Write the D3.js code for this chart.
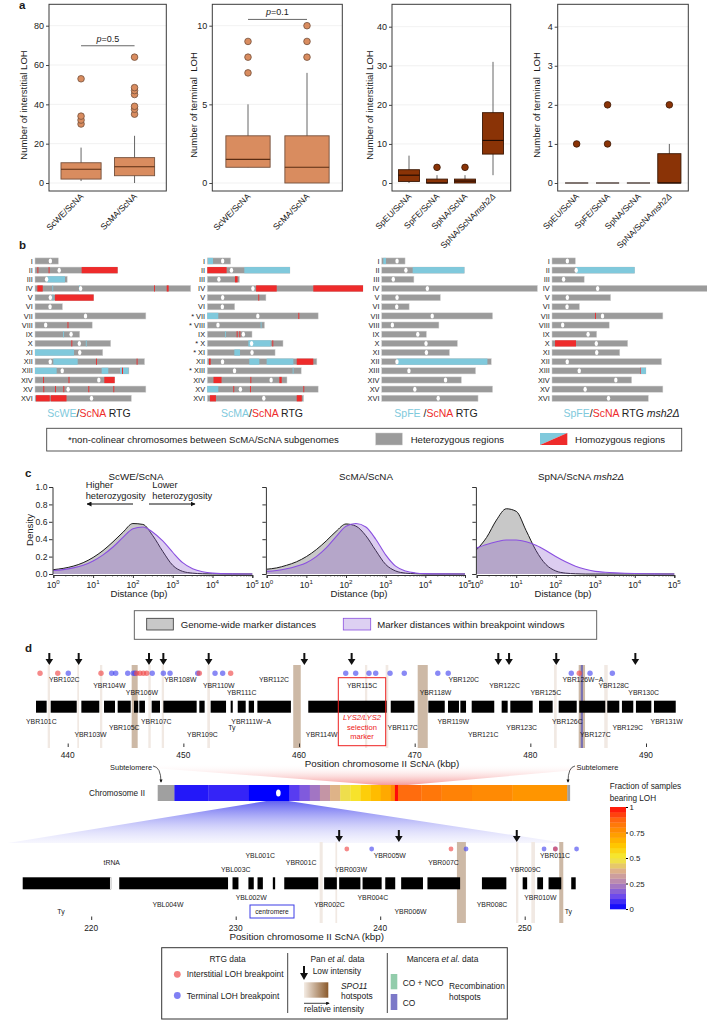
<!DOCTYPE html>
<html>
<head>
<meta charset="utf-8">
<title>LOH figure</title>
<script src="https://d3js.org/d3.v7.min.js"></script>
<style>
  body { margin: 0; background: #fff; }
  svg { display: block; }
</style>
</head>
<body>
<script>
// ---------------- data: panel a ----------------
const sacGroups = ["ScWE/ScNA", "ScMA/ScNA"];
const parGroups = ["SpEU/ScNA", "SpFE/ScNA", "SpNA/ScNA", "SpNA/ScNA msh2Δ"];
// [lower whisker, Q1, median, Q3, upper whisker]
const sacInterStats = [[1, 2, 7, 10.3, 18], [0, 3.7, 8.3, 12.9, 24]];
const sacInterOut = [[30, 32, 34, 53], [35, 37.5, 39, 45, 47, 48.5, 64]];
const sacTermStats = [[1, 1, 1.5, 3, 5], [0, 0, 1, 3, 7]];
const sacTermOut = [[7, 8, 9], [8, 9, 10]];
const parInterStats = [[0, 0.4, 2, 3.4, 7], [0, 0, 0, 1, 2], [0, 0, 0.5, 1, 2], [2, 7.4, 10.9, 18, 31]];
const parInterOut = [[], [4], [4], []];
const parTermStats = [[0, 0, 0, 0, 0], [0, 0, 0, 0, 0], [0, 0, 0, 0, 0], [0, 0, 0, 0.75, 1]];
const parTermOut = [[1], [1, 2], [], [2]];

// ---------------- data: panel b ----------------
const chrNames = ["I", "II", "III", "IV", "V", "VI", "VII", "VIII", "IX", "X", "XI", "XII", "XIII", "XIV", "XV", "XVI"];
const chrLen = [230, 813, 317, 1532, 577, 270, 1091, 563, 440, 745, 667, 1078, 924, 784, 1091, 948];
const cenPos = [151, 238, 114, 449, 151, 148, 497, 105, 355, 436, 440, 150, 268, 628, 326, 556];
// [chromosome index, start kb, end kb, subgenome kept: c = first parent, r = ScNA]
const lohWE = [[1, 24, 32, "r"], [1, 134, 142, "r"], [1, 459, 813, "r"], [2, 121, 295, "c"],
  [3, 23, 76, "r"], [3, 170, 178, "c"], [3, 433, 441, "c"], [3, 1171, 1179, "r"], [3, 1296, 1315, "r"],
  [4, 172, 180, "c"], [4, 197, 577, "r"], [7, 320, 328, "r"], [8, 276, 284, "c"], [9, 358, 366, "r"],
  [9, 500, 508, "c"], [10, 0, 384, "c"], [11, 180, 420, "c"], [11, 600, 608, "r"], [11, 1000, 1008, "r"],
  [12, 0, 213, "c"], [12, 656, 721, "c"], [12, 837, 919, "c"], [12, 856, 866, "r"],
  [13, 80, 88, "r"], [13, 330, 338, "r"], [13, 682, 784, "r"], [14, 82, 90, "r"], [14, 197, 205, "r"],
  [14, 279, 287, "r"], [14, 525, 533, "r"], [14, 771, 779, "r"], [15, 10, 145, "r"], [15, 155, 310, "r"]];
const lohMA = [[0, 7, 56, "c"], [1, 0, 190, "r"], [1, 364, 813, "c"], [2, 272, 298, "r"],
  [3, 480, 683, "r"], [3, 1043, 1532, "r"], [4, 502, 510, "r"], [6, 0, 108, "c"], [6, 896, 904, "r"],
  [7, 525, 533, "c"], [8, 174, 182, "c"], [8, 289, 297, "r"], [8, 316, 324, "r"], [9, 404, 624, "c"],
  [9, 640, 648, "r"], [10, 266, 322, "c"], [11, 17, 33, "r"], [11, 413, 512, "c"], [11, 584, 847, "c"],
  [11, 880, 1043, "r"], [12, 840, 848, "c"], [13, 61, 140, "r"], [13, 424, 432, "r"], [13, 709, 732, "r"],
  [14, 0, 108, "c"], [14, 256, 264, "r"], [14, 420, 428, "r"], [14, 945, 953, "r"], [15, 26, 85, "r"],
  [15, 880, 930, "r"]];
const lohFE = [[0, 16, 42, "c"], [1, 305, 813, "c"], [11, 148, 1040, "c"]];
const lohFEmsh = [[1, 236, 813, "c"], [6, 423, 431, "r"], [9, 30, 236, "r"], [12, 866, 872, "r"], [12, 872, 924, "c"]];
const starMA = [6, 7, 9, 10, 12];

// ---------------- data: panel c ----------------
const cGrid = [0, 0.25, 0.5, 0.75, 1, 1.25, 1.5, 1.75, 2, 2.25, 2.5, 2.75, 3, 3.25, 3.5, 3.75, 4, 4.5, 5];
const denWEall = [0.05, 0.065, 0.09, 0.13, 0.19, 0.27, 0.37, 0.48, 0.58, 0.57, 0.44, 0.26, 0.1, 0.03, 0.01, 0.003, 0.001, 0, 0];
const denWEbrk = [0.04, 0.05, 0.07, 0.1, 0.15, 0.22, 0.31, 0.42, 0.52, 0.54, 0.48, 0.38, 0.25, 0.13, 0.06, 0.025, 0.01, 0.002, 0];
const denMAall = [0.055, 0.07, 0.1, 0.14, 0.2, 0.28, 0.38, 0.49, 0.575, 0.55, 0.44, 0.27, 0.11, 0.035, 0.01, 0.003, 0, 0, 0];
const denMAbrk = [0.03, 0.04, 0.06, 0.09, 0.13, 0.2, 0.3, 0.43, 0.55, 0.58, 0.54, 0.4, 0.22, 0.09, 0.035, 0.012, 0.004, 0.001, 0];
const denNAall = [0.28, 0.42, 0.62, 0.75, 0.72, 0.5, 0.27, 0.11, 0.035, 0.01, 0.003, 0, 0, 0, 0, 0, 0, 0, 0];
const denNAbrk = [0.3, 0.34, 0.37, 0.39, 0.39, 0.37, 0.33, 0.27, 0.2, 0.14, 0.09, 0.055, 0.03, 0.02, 0.013, 0.008, 0.005, 0.002, 0];

// ---------------- data: panel d ----------------
const topGenes = [[437.26, 438.18], [438.53, 440.78], [441.18, 442.73], [443.14, 444.09], [444.32, 445.45],
  [445.73, 446.1], [446.19, 446.68], [447.26, 447.98], [448.27, 451.15], [451.38, 451.84], [452.36, 453.69],
  [454.09, 454.27], [454.7, 455.39], [455.65, 456.11], [456.4, 459.3], [460.8, 467.58], [467.93, 469.97],
  [471.18, 472.6], [472.88, 473.83], [473.95, 474.44], [474.93, 476.88], [477.52, 478.04], [478.27, 480.2],
  [480.75, 481.93], [482.45, 484.01], [484.23, 486.48], [486.65, 487.69], [487.92, 488.9], [489.13, 490.46],
  [490.69, 492.57]];
// [name, kb, row]; rows 0-2 above the track, 3-5 below
const topLabels = [["YBR102C", 439.7, 0], ["YBR104W", 443.6, 1], ["YBR106W", 446.42, 2], ["YBR108W", 449.74, 0],
  ["YBR110W", 453.06, 1], ["YBR111C", 455.05, 2], ["YBR112C", 457.84, 0], ["YBR115C", 465.45, 1],
  ["YBR118W", 471.8, 2], ["YBR120C", 474.24, 0], ["YBR122C", 477.77, 1], ["YBR125C", 481.34, 2],
  ["YBR126W−A", 484.54, 0], ["YBR128C", 487.21, 1], ["YBR130C", 489.8, 2],
  ["YBR101C", 437.72, 3], ["YBR103W", 441.97, 5], ["YBR105C", 444.89, 4], ["YBR107C", 447.66, 3],
  ["YBR109C", 451.65, 5], ["YBR111W−A", 455.87, 3], ["Ty", 454.2, 4], ["YBR114W", 461.96, 5],
  ["YBR117C", 468.96, 4], ["YBR119W", 473.34, 3], ["YBR121C", 475.93, 5], ["YBR123C", 479.25, 4],
  ["YBR126C", 483.2, 3], ["YBR127C", 485.62, 5], ["YBR129C", 488.42, 4], ["YBR131W", 491.79, 3]];
const topArrows = [438.41, 440.95, 447.03, 448.27, 452.19, 460.46, 464.55, 477.23, 478.16, 482.24, 489.08];
const topInter = [437.61, 439.14, 442.88, 445.97, 446.25, 446.54, 446.83, 451.38, 454.09, 484.23];
const topTerm = [440.05, 443.8, 444.15, 445.19, 445.67, 445.82, 447.31, 448.27, 448.85, 451.24, 452.74,
  453.4, 464.04, 464.9, 466.05, 466.63, 467.87, 469.1, 472.0, 472.9, 483.54, 485.16, 487.09];
const topSpo = [[445.53, 446.05], [459.5, 460.15], [470.26, 471.13], [484.18, 484.73]];
const topWeak = [[438.27, 438.47], [440.83, 440.98], [442.79, 442.99], [446.97, 447.18], [448.13, 448.33],
  [452.07, 452.3], [465.7, 465.9], [467.49, 467.72], [482.05, 482.28], [486.39, 486.69]];
const topCO = [[484.36, 484.55]];

const botGenes = [[215.26, 221.38], [221.94, 229.47], [229.78, 230.19], [230.88, 231.25], [231.51, 231.88],
  [232.57, 232.73], [233.36, 235.71], [236.12, 237.0], [237.16, 238.63], [238.78, 240.1], [240.35, 241.04],
  [241.45, 242.96], [243.27, 245.53], [247.04, 248.73], [249.86, 250.17], [250.87, 251.27], [251.65, 252.53],
  [253.22, 253.53]];
const botLabels = [["tRNA", 221.42, 1], ["YBL003C", 230.0, 2], ["YBL001C", 231.7, 0], ["YBR001C", 234.53, 1],
  ["YBR003W", 237.97, 2], ["YBR005W", 240.66, 0], ["YBR007C", 244.38, 1], ["YBR009C", 250.05, 2],
  ["YBR011C", 252.1, 0], ["YBL002W", 231.07, 3], ["YBL004W", 225.31, 4], ["YBR002C", 236.49, 4],
  ["YBR004C", 239.49, 3], ["YBR006W", 242.1, 5], ["YBR008C", 247.74, 4], ["YBR010W", 251.08, 3],
  ["Ty", 217.91, 5], ["Ty", 253.02, 5]];
const botArrows = [237.16, 241.29, 249.45];
const botInter = [237.69, 244.9, 252.12];
const botTerm = [239.41, 245.94, 251.34, 252.12, 253.59];
const botSpo = [[245.31, 245.93], [252.39, 252.67]];
const botWeak = [[235.81, 236.02], [236.9, 237.02], [249.4, 249.56], [250.46, 250.71]];

// LOH fraction along chromosome II (bin edges in kb, null = no data)
const chrIIEdges = [0, 33, 100, 180, 260, 280, 300, 320, 340, 360, 380, 400, 420, 440, 460, 468, 474, 520, 560, 620, 700, 808, 813];
const chrIIFrac = [null, 0.04, 0.06, 0, 0.1, 0.16, 0.22, 0.3, 0.38, 0.47, 0.53, 0.6, 0.65, 0.7, 0.78, 1, 0.86, 0.83, 0.8, 0.78, 0.75, null];
const fracTicks = [0, 0.25, 0.5, 0.75, 1];

// ---------------- setup ----------------
const FONT = "'Liberation Sans', Arial, Helvetica, sans-serif";
const RED = "#ee2b2b", CYAN = "#80c9dc", GREYBAR = "#9b9b9b";

const svg = d3.select("body").append("svg")
  .attr("width", 707).attr("height", 1020)
  .attr("font-family", FONT).attr("fill", "#1a1a1a");

const defs = svg.append("defs");

function addText(parent, x, y, s, size, anchor = "start") {
  return parent.append("text").attr("x", x).attr("y", y)
    .attr("font-size", size).attr("text-anchor", anchor).attr("fill", "#1a1a1a").text(s);
}

// panel letters
[["a", 19, 9], ["b", 19, 249], ["c", 25, 477], ["d", 25, 652]].forEach(([l, x, y]) =>
  addText(svg, x, y, l, 11.5).attr("font-weight", "bold"));

// ---------------- panel a ----------------
function boxChart(o) {
  const g = svg.append("g");
  const y = d3.scaleLinear().domain([0, o.max]).range([183, o.top]);
  const x = d3.scaleBand().domain(o.groups).range(o.range);
  const step = x.bandwidth();
  const bw = step * 0.75;
  const cx = d => x(d) + step / 2;

  g.selectAll(".grid").data(o.ticks).join("line")
    .attr("x1", o.frame[0]).attr("x2", o.frame[1])
    .attr("y1", d => y(d)).attr("y2", d => y(d))
    .attr("stroke", "#ededed").attr("stroke-width", 0.8);

  const ax = g.append("g").attr("transform", `translate(${o.frame[0]},0)`)
    .call(d3.axisLeft(y).tickValues(o.ticks).tickSize(3).tickPadding(2).tickFormat(d3.format("d")));
  ax.attr("font-family", FONT);
  ax.select(".domain").remove();
  ax.selectAll("text").attr("font-size", 9).attr("fill", "#222");
  ax.selectAll("line").attr("stroke", "#444");

  g.append("text")
    .attr("transform", `translate(${o.titleX},105) rotate(-90)`)
    .attr("text-anchor", "middle").attr("font-size", 9.5).style("white-space", "pre")
    .text(o.title);

  const box = g.selectAll(".box").data(o.groups).join("g");
  box.append("line")
    .attr("x1", d => cx(d)).attr("x2", d => cx(d))
    .attr("y1", (d, i) => y(o.stats[i][0])).attr("y2", (d, i) => y(o.stats[i][4]))
    .attr("stroke", "#555").attr("stroke-width", 0.9);
  box.append("rect")
    .attr("x", d => cx(d) - bw / 2).attr("width", bw)
    .attr("y", (d, i) => y(o.stats[i][3]))
    .attr("height", (d, i) => Math.max(0, y(o.stats[i][1]) - y(o.stats[i][3])))
    .attr("fill", o.fill).attr("stroke", o.stroke).attr("stroke-width", 0.9);
  box.append("line")
    .attr("x1", d => cx(d) - bw / 2).attr("x2", d => cx(d) + bw / 2)
    .attr("y1", (d, i) => y(o.stats[i][2])).attr("y2", (d, i) => y(o.stats[i][2]))
    .attr("stroke", o.medStroke).attr("stroke-width", 1.1);
  box.each(function (d, i) {
    d3.select(this).selectAll("circle").data(o.out[i]).join("circle")
      .attr("cx", cx(d)).attr("cy", v => y(v)).attr("r", 3.3)
      .attr("fill", o.fill).attr("stroke", o.stroke).attr("stroke-width", 0.8);
  });

  g.append("rect").attr("x", o.frame[0]).attr("y", 4.3)
    .attr("width", o.frame[1] - o.frame[0]).attr("height", 191 - 4.3)
    .attr("fill", "none").attr("stroke", "#3a3a3a").attr("stroke-width", 1);

  const lab = g.selectAll(".xl").data(o.groups).join("text")
    .attr("transform", d => `translate(${cx(d) + 3},197) rotate(-45)`)
    .attr("text-anchor", "end").attr("font-size", 8.6);
  lab.each(function (d) {
    const t = d3.select(this);
    if (d.includes("msh2")) {
      t.append("tspan").text("SpNA/ScNA");
      t.append("tspan").attr("font-style", "italic").text("msh2Δ");
    } else t.text(d);
  });

  if (o.p) {
    const yy = y(o.p.at);
    g.append("line").attr("x1", cx(o.groups[0])).attr("x2", cx(o.groups[1]))
      .attr("y1", yy).attr("y2", yy).attr("stroke", "#555").attr("stroke-width", 0.9);
    const t = g.append("text").attr("x", (cx(o.groups[0]) + cx(o.groups[1])) / 2).attr("y", yy - 4)
      .attr("text-anchor", "middle").attr("font-size", 9);
    t.append("tspan").attr("font-style", "italic").text("p");
    t.append("tspan").text("=" + o.p.text);
  }
}

const sacFill = "#d98c5f", sacStroke = "#74503c";
const parFill = "#8a3306", parStroke = "#3b1805";
boxChart({ groups: sacGroups, stats: sacInterStats, out: sacInterOut, max: 80, top: 25.7, ticks: [0, 20, 40, 60, 80],
  frame: [49, 166.3], range: [54.3, 161.3], fill: sacFill, stroke: sacStroke, medStroke: "#5a2c12",
  title: "Number of interstitial LOH", titleX: 27, p: { at: 69.8, text: "0.5" } });
boxChart({ groups: sacGroups, stats: sacTermStats, out: sacTermOut, max: 10, top: 25.7, ticks: [0, 5, 10],
  frame: [212.3, 342.3], range: [218.5, 336.5], fill: sacFill, stroke: sacStroke, medStroke: "#5a2c12",
  title: "Number of terminal  LOH", titleX: 196.5, p: { at: 10.4, text: "0.1" } });
boxChart({ groups: parGroups, stats: parInterStats, out: parInterOut, max: 40, top: 26.7, ticks: [0, 10, 20, 30, 40],
  frame: [392, 510.7], range: [395, 507], fill: parFill, stroke: parStroke, medStroke: "#1e0a02",
  title: "Number of interstitial LOH", titleX: 373.3 });
boxChart({ groups: parGroups, stats: parTermStats, out: parTermOut, max: 4, top: 26.7, ticks: [0, 1, 2, 3, 4],
  frame: [557.7, 688.3], range: [561.2, 684.8], fill: parFill, stroke: parStroke, medStroke: "#1e0a02",
  title: "Number of terminal  LOH", titleX: 540 });

// ---------------- panel b ----------------
const yb = d3.scalePoint().domain(chrNames).range([261, 398.3]);
const bPanels = [
  { x0: 35, loh: lohWE, star: [], sub: [["ScWE", CYAN], ["/", "#222"], ["ScNA", RED], [" RTG", "#222"]], cx: 89 },
  { x0: 207.3, loh: lohMA, star: starMA, sub: [["ScMA", CYAN], ["/", "#222"], ["ScNA", RED], [" RTG", "#222"]], cx: 262 },
  { x0: 381.7, loh: lohFE, star: [], sub: [["SpFE ", CYAN], ["/", "#222"], ["ScNA", RED], [" RTG", "#222"]], cx: 436 },
  { x0: 552, loh: lohFEmsh, star: [], sub: [["SpFE", CYAN], ["/", "#222"], ["ScNA", RED], [" RTG ", "#222"], ["msh2Δ", "#222", true]], cx: 621.5 }
];
bPanels.forEach(p => {
  const x = d3.scaleLinear().domain([0, 1532]).range([p.x0, p.x0 + 155.7]);
  const g = svg.append("g");
  g.selectAll(".chr").data(chrNames).join("rect")
    .attr("x", x(0)).attr("y", d => yb(d) - 3.1)
    .attr("width", (d, i) => x(chrLen[i]) - x(0)).attr("height", 6.2)
    .attr("fill", GREYBAR).attr("stroke", "#d4d4d4").attr("stroke-width", 0.5);
  g.selectAll(".loh").data(p.loh).join("rect")
    .attr("x", d => x(d[1])).attr("y", d => yb(chrNames[d[0]]) - 3.1)
    .attr("width", d => Math.max(0.9, x(d[2]) - x(d[1]))).attr("height", 6.2)
    .attr("fill", d => d[3] === "r" ? RED : CYAN);
  g.selectAll(".cen").data(cenPos).join("ellipse")
    .attr("cx", d => x(d)).attr("cy", (d, i) => yb(chrNames[i]))
    .attr("rx", 1.7).attr("ry", 2.5).attr("fill", "#fff");
  g.selectAll(".nm").data(chrNames).join("text")
    .attr("x", x(0) - 2.2).attr("y", d => yb(d) + 2.6)
    .attr("text-anchor", "end").attr("font-size", 7.4)
    .text((d, i) => (p.star.includes(i) ? "* " : "") + d);
  const t = g.append("text").attr("x", p.cx).attr("y", 417).attr("text-anchor", "middle").attr("font-size", 10.5);
  p.sub.forEach(s => {
    const ts = t.append("tspan").attr("fill", s[1]).style("white-space", "pre").text(s[0]);
    if (s[2]) ts.attr("font-style", "italic");
  });
});

// legend b
const lb = svg.append("g");
lb.append("rect").attr("x", 46.7).attr("y", 428.3).attr("width", 635).attr("height", 22.7)
  .attr("fill", "none").attr("stroke", "#444").attr("stroke-width", 0.9);
addText(lb, 68, 443, "*non-colinear chromosomes between ScMA/ScNA subgenomes", 9.6);
lb.append("rect").attr("x", 375.7).attr("y", 433).attr("width", 26.6).attr("height", 12)
  .attr("fill", GREYBAR).attr("stroke", "#ccc").attr("stroke-width", 0.5);
addText(lb, 410.7, 443, "Heterozygous regions", 9.6);
lb.append("path").attr("d", "M540,433 L567.3,433 L540,445 Z").attr("fill", CYAN);
lb.append("path").attr("d", "M567.3,433 L567.3,445 L540,445 Z").attr("fill", RED);
addText(lb, 575, 443, "Homozygous regions", 9.6);

// ---------------- panel c ----------------
const yc = d3.scaleLinear().domain([0, 1]).range([574, 487]);
const cCharts = [
  { range: [53.3, 252.3], all: denWEall, brk: denWEbrk, title: ["ScWE/ScNA"], tx: 136, lx: 139, labels: true },
  { range: [266.7, 465], all: denMAall, brk: denMAbrk, title: ["ScMA/ScNA"], tx: 366, lx: 359, labels: false },
  { range: [476.7, 674.3], all: denNAall, brk: denNAbrk, title: ["SpNA/ScNA ", "msh2Δ"], tx: 581, lx: 563, labels: false }
];
cCharts.forEach(c => {
  const g = svg.append("g");
  const x = d3.scaleLog().domain([1, 1e5]).range(c.range);
  const area = d3.area().x(d => x(Math.pow(10, d[0]))).y0(yc(0)).y1(d => yc(d[1])).curve(d3.curveMonotoneX);
  const line = d3.line().x(d => x(Math.pow(10, d[0]))).y(d => yc(d[1])).curve(d3.curveMonotoneX);
  const allPts = d3.zip(cGrid, c.all);
  const brkPts = d3.zip(cGrid, c.brk);
  g.append("path").attr("d", area(allPts)).attr("fill", "#c8c8c8");
  g.append("path").attr("d", line(allPts)).attr("fill", "none").attr("stroke", "#1a1a1a").attr("stroke-width", 1);
  g.append("path").attr("d", area(brkPts)).attr("fill", "rgb(138,88,205)").attr("fill-opacity", 0.3);
  g.append("path").attr("d", line(brkPts)).attr("fill", "none").attr("stroke", "#8a4fe0").attr("stroke-width", 1.1);

  // y axis
  const ya = g.append("g").attr("transform", `translate(${c.range[0] - 0.8},0)`)
    .call(d3.axisLeft(yc).tickValues([0, 0.2, 0.4, 0.6, 0.8, 1]).tickSize(3.5).tickPadding(1.5)
      .tickFormat(c.labels ? d3.format(".1f") : ""));
  ya.attr("font-family", FONT);
  ya.selectAll("text").attr("font-size", 8.6).attr("fill", "#222");
  ya.selectAll("path,line").attr("stroke", "#333");

  // x axis (log)
  const minors = [];
  for (let k = 0; k < 5; k++) for (let m = 2; m <= 9; m++) minors.push(m * Math.pow(10, k));
  const xa = g.append("g").attr("transform", "translate(0,575)")
    .call(d3.axisBottom(x).tickValues(minors).tickSize(1.6).tickFormat(""));
  xa.selectAll("path,line").attr("stroke", "#444").attr("stroke-width", 0.7);
  const majors = [1, 10, 100, 1e3, 1e4, 1e5];
  const xm = g.append("g").attr("transform", "translate(0,575)")
    .call(d3.axisBottom(x).tickValues(majors).tickSize(3).tickFormat(""));
  xm.selectAll("path,line").attr("stroke", "#333");
  majors.forEach((v, k) => {
    const t = g.append("text").attr("x", x(v)).attr("y", 587.5).attr("text-anchor", "middle").attr("font-size", 8.6);
    t.append("tspan").text("10");
    t.append("tspan").attr("dy", -3.4).attr("font-size", 6.2).text(k);
  });
  addText(g, c.lx, 597, "Distance (bp)", 9.6, "middle");
  const tt = g.append("text").attr("x", c.tx).attr("y", 480).attr("text-anchor", "middle").attr("font-size", 9.8);
  tt.append("tspan").style("white-space", "pre").text(c.title[0]);
  if (c.title[1]) tt.append("tspan").attr("font-style", "italic").text(c.title[1]);
});
svg.append("text").attr("transform", "translate(33,530) rotate(-90)")
  .attr("text-anchor", "middle").attr("font-size", 9.6).text("Density");
// heterozygosity arrows
defs.append("marker").attr("id", "ahead").attr("viewBox", "0 0 10 10").attr("refX", 9).attr("refY", 5)
  .attr("markerWidth", 5).attr("markerHeight", 5).attr("orient", "auto-start-reverse")
  .append("path").attr("d", "M0,0 L10,5 L0,10 z").attr("fill", "#111");
const ca = svg.append("g");
addText(ca, 85.7, 488, "Higher", 9.3);
addText(ca, 85.7, 499, "heterozygosity", 9.3);
addText(ca, 152.3, 488, "Lower", 9.3);
addText(ca, 152.3, 499, "heterozygosity", 9.3);
ca.append("line").attr("x1", 133).attr("x2", 87).attr("y1", 504).attr("y2", 504)
  .attr("stroke", "#111").attr("stroke-width", 1).attr("marker-end", "url(#ahead)");
ca.append("line").attr("x1", 149).attr("x2", 195).attr("y1", 504).attr("y2", 504)
  .attr("stroke", "#111").attr("stroke-width", 1).attr("marker-end", "url(#ahead)");

// legend c
const lc = svg.append("g");
lc.append("rect").attr("x", 134.3).attr("y", 610.7).attr("width", 462.4).attr("height", 28.6)
  .attr("fill", "none").attr("stroke", "#555").attr("stroke-width", 0.9);
lc.append("rect").attr("x", 146.7).attr("y", 618.3).attr("width", 26.6).attr("height", 11.7)
  .attr("fill", "#c8c8c8").attr("stroke", "#333").attr("stroke-width", 0.8);
addText(lc, 180.7, 628, "Genome-wide marker distances", 9.6);
lc.append("rect").attr("x", 343.3).attr("y", 618.3).attr("width", 27.4).attr("height", 11.7)
  .attr("fill", "#ddd0f2").attr("stroke", "#8a4fe0").attr("stroke-width", 0.8);
addText(lc, 377.3, 628, "Marker distances within breakpoint windows", 9.6);

// ---------------- panel d ----------------
const fracColor = d3.scaleLinear()
  .domain([0, 0.12, 0.25, 0.37, 0.5, 0.62, 0.75, 0.88, 1])
  .range(["#0000ff", "#6a48ee", "#b383b6", "#dcae8e", "#f4ec3a", "#ffc800", "#ff9500", "#ff6410", "#ff0a0a"]);

// funnels
const pinkG = defs.append("linearGradient").attr("id", "pinkG").attr("x1", 0).attr("x2", 0).attr("y1", 0).attr("y2", 1);
pinkG.append("stop").attr("offset", 0).attr("stop-color", "#ffffff").attr("stop-opacity", 0);
pinkG.append("stop").attr("offset", 1).attr("stop-color", "#f59a9a").attr("stop-opacity", 1);
const blueG = defs.append("linearGradient").attr("id", "blueG").attr("x1", 0).attr("x2", 0).attr("y1", 0).attr("y2", 1);
blueG.append("stop").attr("offset", 0).attr("stop-color", "#5a5af0").attr("stop-opacity", 0.95);
blueG.append("stop").attr("offset", 1).attr("stop-color", "#dcdcfb").attr("stop-opacity", 0.25);

const xTop = d3.scaleLinear().domain([440, 490]).range([67.7, 646]);
const xBot = d3.scaleLinear().domain([230, 250]).range([235.7, 524.7]);
const xChr = d3.scaleLinear().domain([0, 813]).range([157.7, 569.8]);

svg.append("path").attr("d",
  `M100,764 L645,764 L${xChr(493)},785 L${xChr(437)},785 Z`).attr("fill", "url(#pinkG)");
svg.append("path").attr("d",
  `M${xChr(214)},801 L${xChr(258)},801 L565,843 L8,843 Z`).attr("fill", "url(#blueG)");

function geneMap(o) {
  const g = svg.append("g");
  g.selectAll(".weak").data(o.weak).join("rect")
    .attr("x", d => o.x(d[0])).attr("width", d => o.x(d[1]) - o.x(d[0]))
    .attr("y", o.bandY[0]).attr("height", o.bandY[1] - o.bandY[0]).attr("fill", "#f1e9e3");
  g.selectAll(".spo").data(o.spo).join("rect")
    .attr("x", d => o.x(d[0])).attr("width", d => o.x(d[1]) - o.x(d[0]))
    .attr("y", o.bandY[0]).attr("height", o.bandY[1] - o.bandY[0]).attr("fill", "#cdb9a6");
  if (o.co) g.selectAll(".co").data(o.co).join("rect")
    .attr("x", d => o.x(d[0])).attr("width", d => o.x(d[1]) - o.x(d[0]))
    .attr("y", o.bandY[0]).attr("height", o.bandY[1] - o.bandY[0]).attr("fill", "#6a64b4").attr("opacity", 0.85);
  g.selectAll(".gene").data(o.genes).join("rect")
    .attr("x", d => o.x(d[0])).attr("width", d => o.x(d[1]) - o.x(d[0]))
    .attr("y", o.trackY).attr("height", 12).attr("fill", "#000");
  g.selectAll(".gl").data(o.labels).join("text")
    .attr("x", d => o.x(d[1])).attr("y", d => o.rows[d[2]])
    .attr("dy", "0.35em").attr("text-anchor", "middle").attr("font-size", 6.9).text(d => d[0]);
  g.selectAll(".arr").data(o.arrows).join("path")
    .attr("d", d => {
      const x = o.x(d), y = o.arrowY;
      return `M${x - 1},${y} L${x + 1},${y} L${x + 1},${y + 6} L${x + 3.8},${y + 6} L${x},${y + 12} L${x - 3.8},${y + 6} L${x - 1},${y + 6} Z`;
    }).attr("fill", "#111");
  g.selectAll(".ter").data(o.term).join("circle")
    .attr("cx", d => o.x(d)).attr("cy", o.dotY).attr("r", o.r).attr("fill", "#4a4af0").attr("fill-opacity", 0.65);
  g.selectAll(".int").data(o.inter).join("circle")
    .attr("cx", d => o.x(d)).attr("cy", o.dotY).attr("r", o.r).attr("fill", "#f04a4a").attr("fill-opacity", 0.65);
  const ax = g.append("g").attr("transform", `translate(0,${o.axisY})`)
    .call(d3.axisTop(o.x).tickValues(o.ticks).tickSize(3.5).tickFormat(""));
  ax.select(".domain").remove();
  ax.selectAll("line").attr("stroke", "#333");
  o.ticks.forEach(v => addText(g, o.x(v), o.axisY + 10.5, v, 8.4, "middle"));
  addText(g, o.titleX, o.axisY + 20, "Position chromosome II ScNA (kbp)", 9.8, "middle");
  return g;
}

const gTop = geneMap({
  x: xTop, genes: topGenes, labels: topLabels, arrows: topArrows, inter: topInter, term: topTerm,
  spo: topSpo, weak: topWeak, co: topCO, ticks: [440, 450, 460, 470, 480, 490],
  rows: [679.3, 686, 692.7, 721.7, 728, 734.3], trackY: 700.7, bandY: [665, 748], arrowY: 653,
  dotY: 673.3, r: 2.7, axisY: 747, titleX: 382
});
// LYS2 selection marker box
gTop.append("rect").attr("x", 338.3).attr("y", 677.7).attr("width", 47.4).attr("height", 68)
  .attr("fill", "none").attr("stroke", "#ee2020").attr("stroke-width", 1);
const lys = gTop.append("text").attr("x", 362).attr("y", 720).attr("text-anchor", "middle")
  .attr("font-size", 7.6).attr("fill", "#ee2020");
lys.append("tspan").attr("font-style", "italic").text("LYS2/LYS2");
addText(gTop, 362, 729.5, "selection", 7.6, "middle").attr("fill", "#ee2020");
addText(gTop, 362, 738.5, "marker", 7.6, "middle").attr("fill", "#ee2020");

geneMap({
  x: xBot, genes: botGenes, labels: botLabels, arrows: botArrows, inter: botInter, term: botTerm,
  spo: botSpo, weak: botWeak, ticks: [220, 230, 240, 250],
  rows: [856, 862.7, 869.3, 897.3, 904.5, 911.7], trackY: 877.3, bandY: [842, 923], arrowY: 830,
  dotY: 849, r: 2.4, axisY: 920, titleX: 306.7
});
// tRNA gap and centromere box
svg.append("rect").attr("x", xBot(221.3)).attr("y", 877.3).attr("width", 0.9).attr("height", 12).attr("fill", "#fff");
svg.append("rect").attr("x", 250).attr("y", 905).attr("width", 44).attr("height", 13)
  .attr("fill", "none").attr("stroke", "#3c3ce6").attr("stroke-width", 1);
addText(svg, 272, 914.3, "centromere", 6.6, "middle");

// chromosome II heat bar
const chrG = svg.append("g");
const bins = chrIIFrac.map((f, i) => [chrIIEdges[i], chrIIEdges[i + 1], f]);
chrG.selectAll("rect").data(bins).join("rect")
  .attr("x", d => xChr(d[0])).attr("width", d => xChr(d[1]) - xChr(d[0]) + 0.3)
  .attr("y", 785).attr("height", 16)
  .attr("fill", d => d[2] === null ? "#a0a0a0" : fracColor(d[2]));
chrG.append("ellipse").attr("cx", xChr(cenPos[1])).attr("cy", 793).attr("rx", 2.3).attr("ry", 3.5).attr("fill", "#fff");
addText(chrG, 145, 796, "Chromosome II", 8.2, "end");
addText(chrG, 152, 769.5, "Subtelomere", 7.4, "end");
addText(chrG, 576.5, 769.5, "Subtelomere", 7.4, "start");
defs.append("marker").attr("id", "smallHead").attr("viewBox", "0 0 10 10").attr("refX", 8).attr("refY", 5)
  .attr("markerWidth", 4.5).attr("markerHeight", 4.5).attr("orient", "auto")
  .append("path").attr("d", "M0,0 L10,5 L0,10 z").attr("fill", "#111");
chrG.append("path").attr("d", "M153,766 Q161,767 161,782").attr("fill", "none").attr("stroke", "#111")
  .attr("stroke-width", 0.7).attr("marker-end", "url(#smallHead)");
chrG.append("path").attr("d", "M575,766 Q568,767 568,782").attr("fill", "none").attr("stroke", "#111")
  .attr("stroke-width", 0.7).attr("marker-end", "url(#smallHead)");

// colour bar
const cb = svg.append("g");
const ycb = d3.scaleLinear().domain([0, 1]).range([909, 807]);
const steps = d3.range(20).map(i => i / 20);
cb.selectAll("rect").data(steps).join("rect")
  .attr("x", 610).attr("width", 16).attr("y", d => ycb(d + 0.05)).attr("height", ycb(0) - ycb(0.05) + 0.3)
  .attr("fill", d => fracColor(d + 0.025));
const cba = cb.append("g").attr("transform", "translate(626,0)")
  .call(d3.axisRight(ycb).tickValues(fracTicks).tickSize(2).tickPadding(1.5).tickFormat(d => d));
cba.attr("font-family", FONT);
cba.select(".domain").remove();
cba.selectAll("text").attr("font-size", 7.8).attr("fill", "#222");
addText(cb, 609.7, 789, "Fraction of samples", 8.2);
addText(cb, 609.7, 800.5, "bearing LOH", 8.2);

// legend d
const ld = svg.append("g");
ld.append("rect").attr("x", 161.7).attr("y", 947.7).attr("width", 345.6).attr("height", 71.3)
  .attr("fill", "none").attr("stroke", "#333").attr("stroke-width", 1);
ld.append("line").attr("x1", 287.7).attr("x2", 287.7).attr("y1", 953).attr("y2", 1013).attr("stroke", "#444");
ld.append("line").attr("x1", 387.3).attr("x2", 387.3).attr("y1", 953).attr("y2", 1013).attr("stroke", "#444");
addText(ld, 227.5, 962, "RTG data", 8.4, "middle");
ld.append("circle").attr("cx", 177.3).attr("cy", 974.3).attr("r", 3.4).attr("fill", "#f04a4a").attr("fill-opacity", 0.7);
addText(ld, 186.7, 977.3, "Interstitial LOH breakpoint", 8.4);
ld.append("circle").attr("cx", 177.3).attr("cy", 995.5).attr("r", 3.4).attr("fill", "#4a4af0").attr("fill-opacity", 0.7);
addText(ld, 186.7, 998.5, "Terminal LOH breakpoint", 8.4);
const pan = ld.append("text").attr("x", 337.5).attr("y", 962).attr("text-anchor", "middle").attr("font-size", 8.4);
pan.append("tspan").text("Pan ");
pan.append("tspan").attr("font-style", "italic").text("et al.");
pan.append("tspan").text(" data");
ld.append("path").attr("d", "M303,966 L305,966 L305,973 L308,973 L304,980 L300,973 L303,973 Z").attr("fill", "#111");
addText(ld, 312.7, 974, "Low intensity", 8.4);
const brownG = defs.append("linearGradient").attr("id", "brownG");
brownG.append("stop").attr("offset", 0).attr("stop-color", "#f4ece4");
brownG.append("stop").attr("offset", 1).attr("stop-color", "#8a5a2c");
ld.append("rect").attr("x", 304).attr("y", 982.3).attr("width", 24.3).attr("height", 15.4).attr("fill", "url(#brownG)");
const spo = ld.append("text").attr("x", 341).attr("y", 989).attr("font-size", 8.4).attr("font-style", "italic");
spo.text("SPO11");
addText(ld, 341, 999, "hotspots", 8.4);
ld.append("line").attr("x1", 304).attr("x2", 329).attr("y1", 1003.3).attr("y2", 1003.3)
  .attr("stroke", "#111").attr("stroke-width", 0.8).attr("marker-end", "url(#smallHead)");
addText(ld, 304, 1012, "relative intensity", 8.4);
const manc = ld.append("text").attr("x", 442.5).attr("y", 962).attr("text-anchor", "middle").attr("font-size", 8.4);
manc.append("tspan").text("Mancera ");
manc.append("tspan").attr("font-style", "italic").text("et al.");
manc.append("tspan").text(" data");
ld.append("rect").attr("x", 390.7).attr("y", 974).attr("width", 6.6).attr("height", 15.3).attr("fill", "#92ccab");
ld.append("rect").attr("x", 390.7).attr("y", 994).attr("width", 6.6).attr("height", 16).attr("fill", "#7c79c8");
addText(ld, 402.7, 985.5, "CO + NCO", 8.4);
addText(ld, 402.7, 1005.5, "CO", 8.4);
addText(ld, 449, 989, "Recombination", 8.4);
addText(ld, 449, 999.5, "hotspots", 8.4);
</script>
</body>
</html>
